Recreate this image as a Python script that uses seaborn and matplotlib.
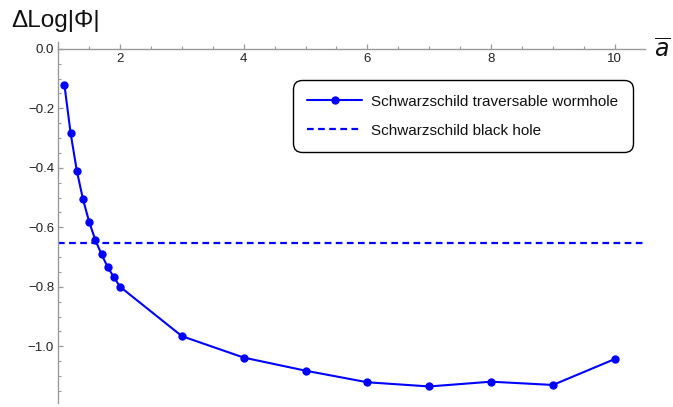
import numpy as np
import pandas as pd
import matplotlib
matplotlib.use("Agg")
import matplotlib.pyplot as plt
from matplotlib.lines import Line2D
from matplotlib.ticker import MultipleLocator
import seaborn as sns

# Wormhole throat parameter a-bar and the corresponding flux change
a_bar = [1.1, 1.2, 1.3, 1.4, 1.5, 1.6, 1.7, 1.8, 1.9, 2.0,
         3.0, 4.0, 5.0, 6.0, 7.0, 8.0, 9.0, 10.0]
delta_log_phi = [-0.122, -0.284, -0.410, -0.506, -0.582, -0.643, -0.691, -0.734,
                 -0.768, -0.800, -0.966, -1.038, -1.082, -1.121, -1.135, -1.119,
                 -1.130, -1.043]
# Reference level for the Schwarzschild black hole
black_hole_level = -0.652

series_labels = ["Schwarzschild traversable wormhole", "Schwarzschild black hole"]
x_ticks = [2, 4, 6, 8, 10]
y_ticks = [0.0, -0.2, -0.4, -0.6, -0.8, -1.0]

sns.set_theme(style="white")
plt.rcParams["font.family"] = ["Liberation Sans", "DejaVu Sans"]

df = pd.DataFrame({"a": a_bar, "dlog": delta_log_phi})

fig = plt.figure(figsize=(6.73, 4.07), dpi=100)
ax = fig.add_axes([0.0866, 0.0103, 0.9584 - 0.0866, 0.8975 - 0.0103])

blue = (0, 0, 1)
sns.lineplot(data=df, x="a", y="dlog", ax=ax, color=blue, linewidth=1.5,
             marker="o", markersize=6, markeredgewidth=0, markeredgecolor=blue,
             legend=False)
ax.axhline(black_hole_level, color=blue, linewidth=1.6, linestyle=(0, (3, 2)))

ax.set_xlim(1.0, 10.49)
ax.set_ylim(-1.19, 0.024)

# Axes crossing style: horizontal axis through y = 0, vertical axis at left edge
axis_grey = "#9a9a9a"
for side in ["right", "top"]:
    ax.spines[side].set_visible(False)
ax.spines["bottom"].set_position(("data", 0))
ax.spines["left"].set_position(("axes", 0))
for side in ["bottom", "left"]:
    ax.spines[side].set_color(axis_grey)
    ax.spines[side].set_linewidth(1.0)

ax.set_xticks(x_ticks)
ax.set_xticklabels([str(t) for t in x_ticks])
ax.xaxis.set_minor_locator(MultipleLocator(0.5))
ax.set_yticks(y_ticks)
ax.set_yticklabels([f"{t:.1f}".replace("-", "\u2212") for t in y_ticks])
ax.yaxis.set_minor_locator(MultipleLocator(0.05))

ax.tick_params(axis="both", which="major", direction="in", length=3.5, width=0.9,
               color=axis_grey, labelsize=9.5, labelcolor="#222222", pad=3,
               bottom=True, left=True)
ax.tick_params(axis="both", which="minor", direction="in", length=2.2, width=0.8,
               color=axis_grey, bottom=True, left=True)
ax.set_xlabel("")
ax.set_ylabel("")
ax.grid(False)

fig.text(11.0 / 673, 1 - 27.0 / 407, "\u0394Log|\u03a6|", fontsize=17.5,
         color="#111111", va="baseline", ha="left")
fig.text(654.0 / 673, 1 - 57.0 / 407, r"$\overline{a}$", fontsize=17,
         color="#111111", va="baseline", ha="left")

handles = [
    Line2D([], [], color=blue, linewidth=1.5, marker="o", markersize=6,
           markeredgewidth=0),
    Line2D([], [], color=blue, linewidth=1.6, linestyle=(0, (3, 2))),
]
leg = ax.legend(handles, series_labels, loc="upper right",
                bbox_to_anchor=(633.0 / 673, 1 - 80.0 / 407),
                bbox_transform=fig.transFigure, fontsize=11, frameon=True,
                fancybox=True, edgecolor="black", facecolor="white",
                framealpha=1.0, handlelength=3.6, handletextpad=0.6,
                borderpad=0.95, labelspacing=1.0, borderaxespad=0)
leg.get_frame().set_linewidth(1.0)
leg.get_frame().set_boxstyle("round", pad=0, rounding_size=0.6)
for t in leg.get_texts():
    t.set_color("#111111")

fig.savefig("out.png", dpi=100)
